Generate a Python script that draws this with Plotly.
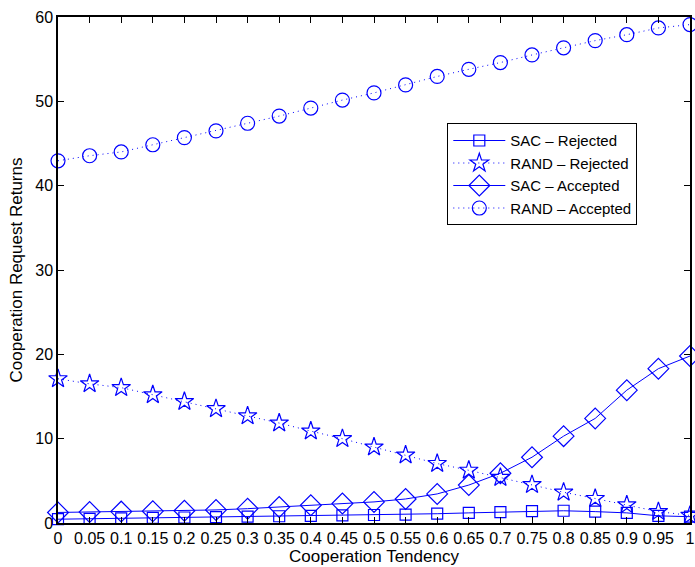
import plotly.graph_objects as go

# Cooperation tendency sweep
tendency = [0, 0.05, 0.1, 0.15, 0.2, 0.25, 0.3, 0.35, 0.4, 0.45, 0.5,
            0.55, 0.6, 0.65, 0.7, 0.75, 0.8, 0.85, 0.9, 0.95, 1.0]
tick_labels = ["0", "0.05", "0.1", "0.15", "0.2", "0.25", "0.3", "0.35", "0.4",
               "0.45", "0.5", "0.55", "0.6", "0.65", "0.7", "0.75", "0.8",
               "0.85", "0.9", "0.95", "1"]

sac_rejected = [0.45, 0.5, 0.55, 0.6, 0.65, 0.7, 0.75, 0.8, 0.85, 0.9, 0.95,
                1.0, 1.1, 1.2, 1.3, 1.4, 1.45, 1.35, 1.2, 0.85, 0.75]
rand_rejected = [17.1, 16.5, 16.05, 15.2, 14.4, 13.55, 12.7, 11.85, 10.9, 10.0,
                 9.0, 8.05, 7.05, 6.25, 5.4, 4.55, 3.65, 2.9, 2.15, 1.35, 0.9]
sac_accepted = [1.25, 1.3, 1.35, 1.4, 1.45, 1.55, 1.7, 1.9, 2.1, 2.3, 2.5,
                2.85, 3.45, 4.5, 5.9, 7.8, 10.3, 12.4, 15.75, 18.3, 19.8]
rand_accepted = [42.95, 43.55, 44.0, 44.85, 45.7, 46.5, 47.4, 48.25, 49.2, 50.15,
                 51.0, 51.95, 52.95, 53.8, 54.6, 55.5, 56.35, 57.2, 57.9, 58.7, 59.1]

BLUE = "#0000ff"
FONT = "Liberation Sans, Arial, Helvetica, sans-serif"
DOTTED = "1px,4px"

series = [
    ("SAC \u2013 Rejected", sac_rejected, "square-open", 11, "solid"),
    ("RAND \u2013 Rejected", rand_rejected, "star-open", 14, DOTTED),
    ("SAC \u2013 Accepted", sac_accepted, "diamond-open", 16, "solid"),
    ("RAND \u2013 Accepted", rand_accepted, "circle-open", 14, DOTTED),
]

fig = go.Figure()
for name, vals, sym, size, dash in series:
    fig.add_trace(go.Scatter(
        x=tendency, y=vals, name=name, mode="lines+markers",
        line=dict(color=BLUE, width=1, dash=dash),
        marker=dict(symbol=sym, size=size, color=BLUE, line=dict(width=1.2, color=BLUE)),
        cliponaxis=False,
    ))

axis_common = dict(
    showline=True, linecolor="black", linewidth=1.5, mirror="ticks",
    ticks="inside", ticklen=6, tickcolor="black", tickwidth=1,
    showgrid=False, zeroline=False,
    tickfont=dict(family=FONT, size=16, color="black"),
)

fig.update_layout(
    width=695, height=567,
    margin=dict(l=58, r=0, t=17, b=44),
    paper_bgcolor="white", plot_bgcolor="white",
    font=dict(family=FONT, size=16, color="black"),
    showlegend=True,
    legend=dict(
        x=0.616, y=0.79, xanchor="left", yanchor="top",
        bordercolor="black", borderwidth=1, bgcolor="white",
        font=dict(family=FONT, size=15, color="black"),
        tracegroupgap=0, itemwidth=52,
    ),
    xaxis=dict(
        range=[0, 1], tickvals=tendency, ticktext=tick_labels,
        tickangle=0, ticklabeloverflow="allow",
        title=dict(text="Cooperation Tendency", font=dict(family=FONT, size=17), standoff=0),
        **axis_common,
    ),
    yaxis=dict(
        range=[0, 60], tickvals=[0, 10, 20, 30, 40, 50, 60],
        title=dict(text="Cooperation Request Returns", font=dict(family=FONT, size=17), standoff=8),
        **axis_common,
    ),
)

fig.write_html("out.html")
